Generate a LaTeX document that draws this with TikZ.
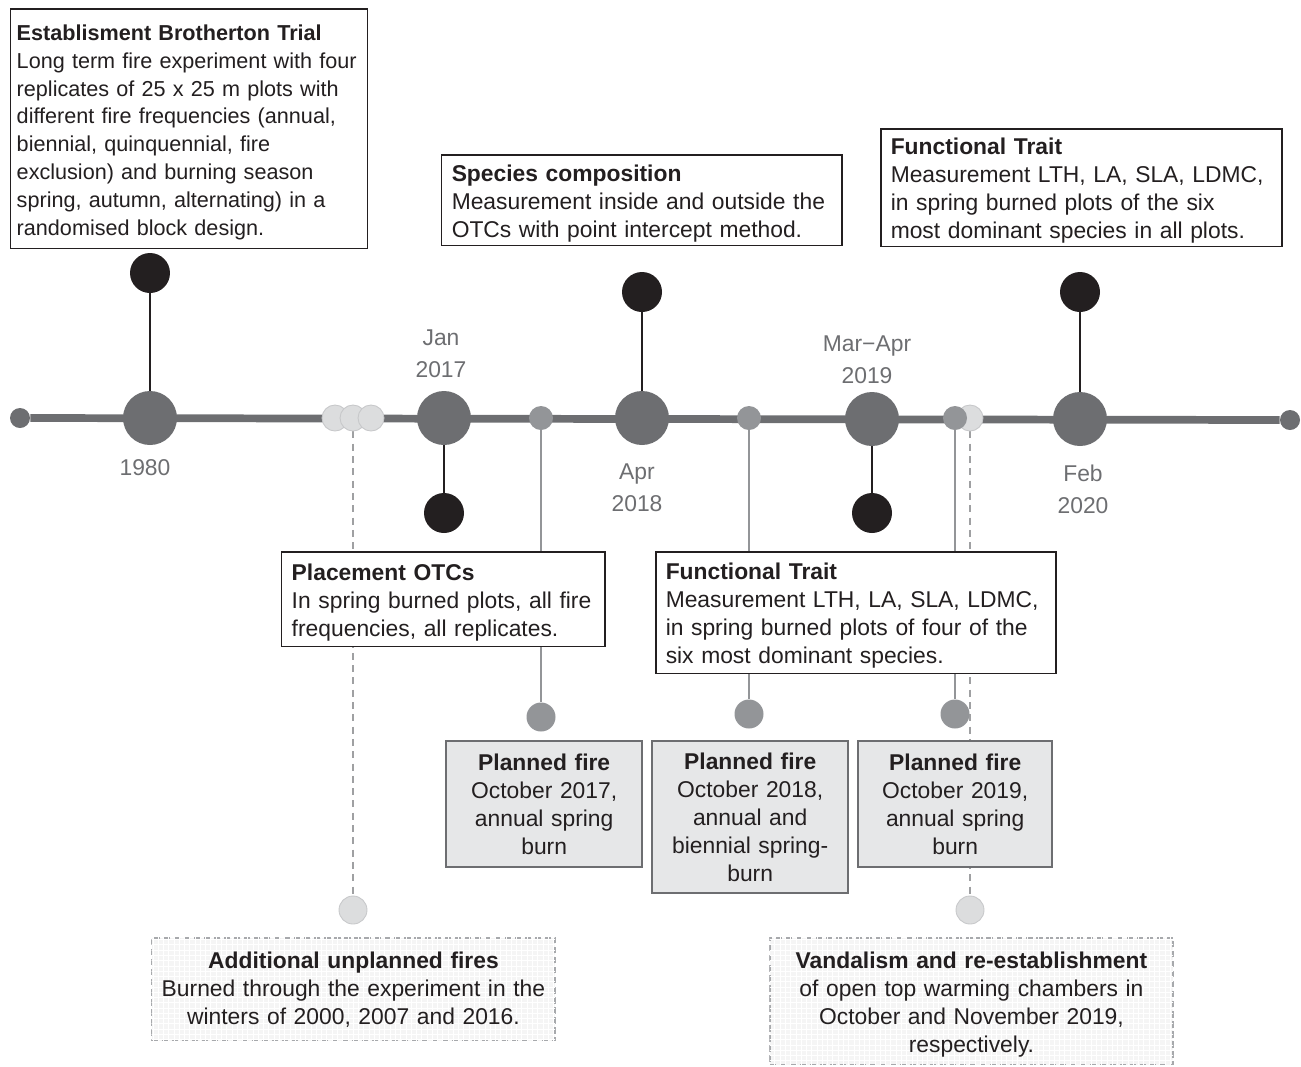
\documentclass[tikz,border=0pt]{standalone}
\usepackage{fontspec}
\setmainfont{Liberation Sans}
\usetikzlibrary{backgrounds,patterns}

\definecolor{tlgray}{HTML}{6D6E71}
\definecolor{dotblack}{HTML}{231F20}
\definecolor{midgray}{HTML}{939598}
\definecolor{lightdotgray}{HTML}{DCDDDE}
\definecolor{lightedge}{HTML}{C7C8CA}
\definecolor{firefill}{HTML}{E6E7E8}
\definecolor{dashgray}{HTML}{A7A9AC}

\newcommand{\boxfont}{\fontsize{13}{15.9}\selectfont}
\newcommand{\estfont}{\fontsize{12.3}{15.9}\selectfont}
\newcommand{\datefont}{\fontsize{13}{18.2}\selectfont}
\newcommand{\tstrut}{\rule{0pt}{13pt}}

\tikzset{
  textbox/.style={draw=dotblack, line width=0.85pt, fill=white, text=dotblack,
    align=left, anchor=north west, inner xsep=0.2cm, inner ysep=0pt, font=\boxfont},
  firebox/.style={draw=tlgray, line width=1.1pt, fill=firefill, text=dotblack,
    align=center, anchor=north west, inner xsep=0.12cm, inner ysep=0pt, font=\boxfont},
  eventbox/.style={draw=dashgray, line width=0.85pt, dash pattern=on 3.5pt off 2.2pt,
    fill=black!4, postaction={pattern=grid, pattern color=white}, text=dotblack,
    align=center, anchor=north west, inner xsep=0.12cm, inner ysep=0pt, font=\boxfont},
  bigdot/.style={circle, fill=tlgray, inner sep=0pt, minimum size=1.08cm},
  blackdot/.style={circle, fill=dotblack, inner sep=0pt, minimum size=0.8cm},
  firedot/.style={circle, fill=midgray, inner sep=0pt, minimum size=0.48cm},
  fireend/.style={circle, fill=midgray, inner sep=0pt, minimum size=0.58cm},
  lightdot/.style={circle, fill=lightdotgray, draw=lightedge, line width=0.5pt, inner sep=0pt, minimum size=0.52cm},
  lightend/.style={circle, fill=lightdotgray, draw=lightedge, line width=0.5pt, inner sep=0pt, minimum size=0.56cm},
  enddot/.style={circle, fill=tlgray, inner sep=0pt, minimum size=0.4cm},
  datelabel/.style={text=tlgray, align=center, font=\datefont, inner sep=0pt},
  timeline/.style={draw=tlgray, line width=4.4pt},
  stem/.style={draw=dotblack, line width=1.1pt},
  firestem/.style={draw=midgray, line width=1.1pt},
  unplannedstem/.style={draw=lightedge!80!black, line width=1.1pt, dash pattern=on 4pt off 3pt}
}

\begin{document}
\begin{tikzpicture}[x=0.02cm, y=-0.02cm]
  \useasboundingbox (0,0) rectangle (1301,1066);

  % timeline
  \node[enddot] (endL) at (20,418) {};
  \node[enddot] (endR) at (1290,420) {};

  \node[bigdot] (t1980) at (150,418) {};
  \node[bigdot] (t2017) at (444,418) {};
  \node[bigdot] (t2018) at (642,418) {};
  \node[bigdot] (t2019) at (872,419) {};
  \node[bigdot] (t2020) at (1080,419) {};

  \node[blackdot] (b1980) at (150,273) {};
  \node[blackdot] (b2017) at (444,513) {};
  \node[blackdot] (b2018) at (642,292) {};
  \node[blackdot] (b2019) at (872,513) {};
  \node[blackdot] (b2020) at (1080,292) {};

  \node[lightdot] (u1) at (335,418) {};
  \node[lightdot] (u2) at (353,418) {};
  \node[lightdot] (u3) at (371,418) {};
  \node[lightdot] (v1) at (970,418) {};
  \node[lightend] (uend) at (353,910) {};
  \node[lightend] (vend) at (970,910) {};

  \node[firedot] (f17) at (541,418) {};
  \node[firedot] (f18) at (749,418) {};
  \node[firedot] (f19) at (955,418) {};
  \node[fireend] (f17end) at (541,717) {};
  \node[fireend] (f18end) at (749,714) {};
  \node[fireend] (f19end) at (955,714) {};

  \node[datelabel] (lab1980) at (145,468) {1980};
  \node[datelabel] (lab2017) at (441,354) {Jan\\2017};
  \node[datelabel] (lab2018) at (637,488) {Apr\\2018};
  \node[datelabel] (lab2019) at (867,360) {Mar−Apr\\2019};
  \node[datelabel] (lab2020) at (1083,489) {Feb\\2020};

  % boxes
  \node[textbox, font=\estfont, inner xsep=0.12cm, text width=6.9cm, minimum height=4.8cm] (est) at (10,8)
    {\tstrut\textbf{Establisment Brotherton Trial}\\Long term fire experiment with four\\replicates of 25 x 25 m plots with\\different fire frequencies (annual,\\biennial, quinquennial, fire\\exclusion) and burning season\\spring, autumn, alternating) in a\\randomised block design.};
  \node[textbox, text width=7.61cm, minimum height=1.82cm] (spec) at (441,154)
    {\tstrut\textbf{Species composition}\\Measurement inside and outside the\\OTCs with point intercept method.};
  \node[textbox, text width=7.63cm, minimum height=2.36cm] (ftop) at (880,128)
    {\tstrut\textbf{Functional Trait}\\Measurement LTH, LA, SLA, LDMC,\\in spring burned plots of the six\\most dominant species in all plots.};
  \node[textbox, text width=6.07cm, minimum height=1.9cm] (otc) at (281,551)
    {\tstrut\textbf{Placement OTCs}\\In spring burned plots, all fire\\frequencies, all replicates.};
  \node[textbox, text width=7.61cm, minimum height=2.44cm] (fmid) at (655,551)
    {\tstrut\textbf{Functional Trait}\\Measurement LTH, LA, SLA, LDMC,\\in spring burned plots of four of the\\six most dominant species.};

  \node[firebox, text width=3.69cm, minimum height=2.52cm] (pf17) at (445,740)
    {\textbf{Planned fire}\\October 2017,\\annual spring\\burn};
  \node[firebox, text width=3.69cm, minimum height=3.04cm] (pf18) at (651,740)
    {\textbf{Planned fire}\\October 2018,\\annual and\\biennial spring-\\burn};
  \node[firebox, text width=3.65cm, minimum height=2.52cm] (pf19) at (857,740)
    {\textbf{Planned fire}\\October 2019,\\annual spring\\burn};

  \node[eventbox, text width=7.83cm, minimum height=2.06cm] (unpl) at (151,937)
    {\textbf{Additional unplanned fires}\\Burned through the experiment in the\\winters of 2000, 2007 and 2016.};
  \node[eventbox, text width=7.83cm, minimum height=2.54cm] (vand) at (769,937)
    {\tstrut\textbf{Vandalism and re-establishment}\\of open top warming chambers in\\October and November 2019,\\respectively.};

  \begin{scope}[on background layer]
    \draw[timeline] (endL) -- (endR);
    \draw[stem] (t1980) -- (b1980);
    \draw[stem] (t2017) -- (b2017);
    \draw[stem] (t2018) -- (b2018);
    \draw[stem] (t2019) -- (b2019);
    \draw[stem] (t2020) -- (b2020);
    \draw[firestem] (f17) -- (f17end);
    \draw[firestem] (f18) -- (f18end);
    \draw[firestem] (f19) -- (f19end);
    \draw[unplannedstem] (u2) -- (uend);
    \draw[unplannedstem] (v1) -- (vend);
  \end{scope}
\end{tikzpicture}
\end{document}
